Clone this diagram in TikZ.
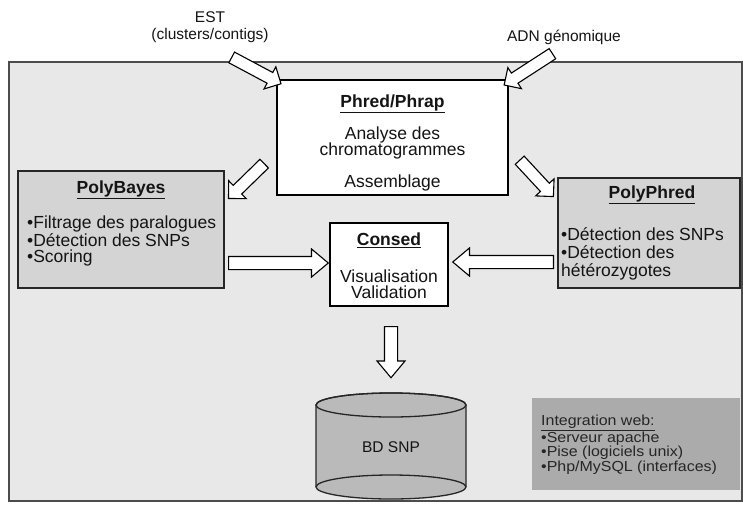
\documentclass[tikz,border=0pt]{standalone}
\usepackage{fontspec}
\setmainfont{Liberation Sans}
\newfontfamily\webfont[FakeStretch=1.1]{Liberation Sans}
\usetikzlibrary{shapes.arrows,calc}

\tikzset{
  frame/.style={draw=black!70, fill=black!9, line width=1.3pt},
  whitebox/.style={draw=black, fill=white, line width=1.3pt, inner sep=0pt},
  greybox/.style={draw=black!85, fill=black!17, line width=1.3pt, inner sep=0pt},
  boxtext/.style={font=\fontsize{17.5}{16.5}\selectfont, text=black!92, align=left, inner sep=0pt},
  labeltext/.style={font=\fontsize{15.5}{17}\selectfont, text=black!92, align=center, inner sep=0pt},
  hollow/.style={single arrow, draw=black, fill=white, line width=1.1pt,
    inner xsep=0pt, inner ysep=5.5pt, minimum width=0pt,
    single arrow head extend=6.5pt, single arrow tip angle=90,
    sloped, allow upside down},
  wide arrow/.style={inner ysep=6pt, single arrow head extend=7.5pt, single arrow tip angle=80},
}
\newcommand\hollowarrow[3][]{%
  \path let \p1=($(#3)-(#2)$), \n1={veclen(\x1,\y1)} in
    (#2) -- (#3) node[hollow,#1,midway,minimum height=\n1]{};}

\begin{document}
\begin{tikzpicture}[x=1pt,y=-1pt]
\useasboundingbox (0,0) rectangle (743,504);
% Drawing frame
\draw[frame] (9,62) rectangle (742,501);
% Done with frame; drawing boxes
\node[whitebox, minimum width=231pt, minimum height=115pt] (phred) at (392.5,137.5) {};
\node[greybox, minimum width=206pt, minimum height=117pt] (pbayes) at (121,229.5) {};
\node[greybox, minimum width=182pt, minimum height=110pt] (pphred) at (649,233) {};
\node[whitebox, minimum width=118pt, minimum height=83pt] (consed) at (389,264.5) {};
\node[fill=black!33, minimum width=208pt, minimum height=92pt, inner sep=0pt] (web) at (636,444) {};
% Line: cylinder BD SNP
\filldraw[draw=black!85, fill=black!27, line width=1.3pt] (316,405) -- (316,487)
  arc[start angle=180, end angle=360, x radius=75pt, y radius=12pt] -- (466,405)
  arc[start angle=0, end angle=180, x radius=75pt, y radius=12pt] -- cycle;
\draw[draw=black!85, line width=1.3pt] (391,405) ellipse[x radius=75pt, y radius=12pt];
\draw[draw=black!85, line width=1.3pt] (316,487) arc[start angle=180, end angle=0, x radius=75pt, y radius=12pt];
\node[minimum width=150pt, minimum height=82pt, inner sep=0pt, labeltext] (db) at (391,447) {BD SNP};
% Done with boxes; drawing texts
\node[labeltext] (esttxt) at (210,27.5) {EST\\(clusters/contigs)};
\node[labeltext] (adntxt) at (564,37) {ADN génomique};
\node[boxtext] (phredtitle) at (392.5,104) {\underline{\textbf{Phred/Phrap}}};
\node[boxtext, align=center] (analyse) at (392.5,143) {Analyse des\\chromatogrammes};
\node[boxtext] (assemblage) at (392.5,183) {Assemblage};
\node[boxtext] (pbayestitle) at (121,190) {\underline{\textbf{PolyBayes}}};
\node[boxtext, anchor=west] (pbayeslist) at (27,241)
  {•Filtrage des paralogues\\•Détection des SNPs\\•Scoring};
\node[boxtext] (pphredtitle) at (652,195) {\underline{\textbf{PolyPhred}}};
\node[boxtext, anchor=west, font=\fontsize{17.5}{18}\selectfont] (pphredlist) at (561,254)
  {•Détection des SNPs\\•Détection des\\hétérozygotes};
\node[boxtext] (consedtitle) at (389,240) {\underline{\textbf{Consed}}};
\node[boxtext, align=center] (consedtxt) at (389,284) {Visualisation\\Validation};
\node[inner sep=0pt, anchor=west, align=left, text=black!85,
  font=\webfont\fontsize{14.5}{14.5}\selectfont] (webtxt) at (541,444.5)
  {\underline{Integration web:}\\•Serveur apache\\•Pise (logiciels unix)\\•Php/MySQL (interfaces)};
% Done with texts; drawing arrows
\coordinate (esttail) at (229,56);
\coordinate (esttip) at ([xshift=2pt,yshift=-3pt]phred.north west);
\coordinate (adntail) at (555,52);
\coordinate (adntip) at ([xshift=-2pt,yshift=-4pt]phred.north east);
\coordinate (bayestail) at ([xshift=-10pt,yshift=-24pt]phred.west);
\coordinate (bayestip) at ([xshift=6pt,yshift=-26pt]pbayes.north east);
\coordinate (phredtail) at ([xshift=9pt,yshift=-20.5pt]phred.east);
\coordinate (phredtip) at ([xshift=-6pt,yshift=-17pt]pphred.north west);
\coordinate (lefttail) at ([yshift=-33.5pt]pbayes.east);
\coordinate (lefttip) at ([xshift=-5pt,yshift=1.5pt]consed.west);
\coordinate (righttail) at ([yshift=-29pt]pphred.west);
\coordinate (righttip) at ([xshift=8pt,yshift=2.5pt]consed.east);
\coordinate (downtail) at ([xshift=2pt,yshift=-16pt]consed.south);
\coordinate (downtip) at ([yshift=32pt]db.north);
\hollowarrow{esttail}{esttip}
\hollowarrow{adntail}{adntip}
\hollowarrow{bayestail}{bayestip}
\hollowarrow{phredtail}{phredtip}
\hollowarrow[wide arrow]{lefttail}{lefttip}
\hollowarrow[wide arrow]{righttail}{righttip}
\hollowarrow[wide arrow]{downtail}{downtip}
% Done with arrows
\end{tikzpicture}
\end{document}
